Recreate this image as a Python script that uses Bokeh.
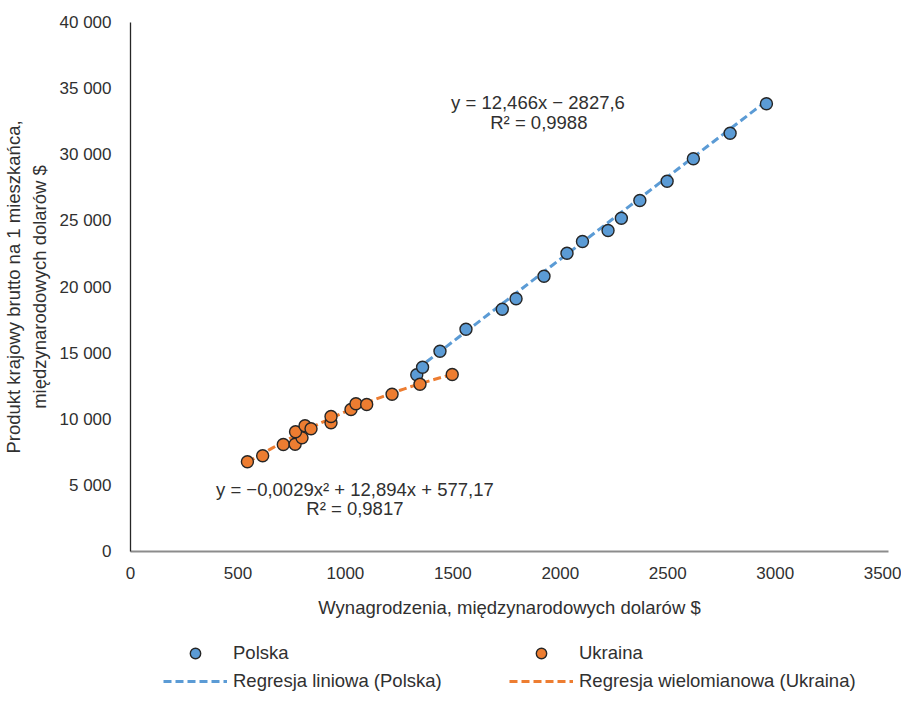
import numpy as np
from bokeh.plotting import figure
from bokeh.layouts import column
from bokeh.models import Legend, LegendItem, Label, FixedTicker, Range1d
from bokeh.embed import file_html
from bokeh.resources import INLINE

# ---- data ----
pl_wages = [1332, 1359, 1440, 1561, 1730, 1794, 1924, 2031, 2103, 2222, 2284, 2370, 2497, 2619, 2790, 2959]
pl_gdp = [13361, 13936, 15146, 16809, 18321, 19108, 20817, 22556, 23440, 24272, 25202, 26541, 28001, 29694, 31629, 33852]

ua_wages = [544, 615, 711, 766, 798, 768, 812, 840, 933, 933, 1026, 1049, 1099, 1217, 1347, 1497]
ua_gdp = [6783, 7236, 8091, 8113, 8597, 9051, 9505, 9278, 9732, 10208, 10737, 11168, 11115, 11894, 12650, 13384]

# trend-line coefficients as printed on the chart
pl_coef = [12.466, -2827.6]
ua_coef = [-0.0029, 12.894, 577.17]

pl_eq = "y = 12,466x \u2212 2827,6"
pl_r2 = "R\u00b2 = 0,9988"
ua_eq = "y = \u22120,0029x\u00b2 + 12,894x + 577,17"
ua_r2 = "R\u00b2 = 0,9817"

x_ticks = [0, 500, 1000, 1500, 2000, 2500, 3000, 3500]
y_ticks = [0, 5000, 10000, 15000, 20000, 25000, 30000, 35000, 40000]
y_tick_labels = ["0", "5 000", "10 000", "15 000", "20 000", "25 000", "30 000", "35 000", "40 000"]

x_title = "Wynagrodzenia, mi\u0119dzynarodowych dolar\u00f3w $"
y_title = "Produkt krajowy brutto na 1 mieszka\u0144ca,\nmi\u0119dzynarodowych dolar\u00f3w $"

names = ["Polska", "Ukraina", "Regresja liniowa (Polska)", "Regresja wielomianowa (Ukraina)"]

# ---- style ----
FONT = "Liberation Sans"
TXT = "#303030"
BLUE = "#5B9BD5"
ORANGE = "#ED7D31"
EDGE = "#262626"
BIG = "18.5px"
TICK = "17px"
DASH = "8 4"

p = figure(width=901, height=625, output_backend="svg", toolbar_location=None,
           x_range=Range1d(0, 3527), y_range=Range1d(0, 40000),
           min_border_left=130, min_border_right=13, min_border_top=22, min_border_bottom=74)
p.outline_line_color = None
p.grid.grid_line_color = None
p.background_fill_color = "white"
p.border_fill_color = "white"

# trend lines
xs_pl = np.linspace(min(pl_wages), max(pl_wages), 60)
ys_pl = np.polyval(pl_coef, xs_pl)
xs_ua = np.linspace(min(ua_wages), max(ua_wages), 60)
ys_ua = np.polyval(ua_coef, xs_ua)

pl_style = dict(size=12, fill_color=BLUE, line_color=EDGE, line_width=1.4)
ua_style = dict(size=12, fill_color=ORANGE, line_color=EDGE, line_width=1.4)
pl_lstyle = dict(line_color=BLUE, line_width=3, line_dash=DASH)
ua_lstyle = dict(line_color=ORANGE, line_width=3, line_dash=DASH)

p.line(xs_pl, ys_pl, **pl_lstyle)
p.scatter(pl_wages, pl_gdp, **pl_style)
p.line(xs_ua, ys_ua, **ua_lstyle)
p.scatter(ua_wages, ua_gdp, **ua_style)

# axes
for ax in (p.xaxis[0], p.yaxis[0]):
    ax.major_tick_line_color = None
    ax.minor_tick_line_color = None
    ax.major_label_text_font = FONT
    ax.major_label_text_font_size = TICK
    ax.major_label_text_color = TXT
    ax.axis_label_text_font = FONT
    ax.axis_label_text_font_size = BIG
    ax.axis_label_text_color = TXT
    ax.axis_label_text_font_style = "normal"

p.xaxis.ticker = FixedTicker(ticks=x_ticks)
p.yaxis.ticker = FixedTicker(ticks=y_ticks)
p.yaxis.major_label_overrides = {t: s for t, s in zip(y_ticks, y_tick_labels)}
p.xaxis.axis_label = x_title
p.yaxis.axis_label = y_title
p.xaxis.axis_line_color = "#8c8c8c"
p.xaxis.axis_line_width = 2
p.yaxis.axis_line_color = "#262626"
p.yaxis.axis_line_width = 1.3
p.xaxis.major_label_standoff = 9
p.yaxis.major_label_standoff = 13
p.xaxis.axis_label_standoff = 15
p.yaxis.axis_label_standoff = 7

# equations
for (x, y, t) in [(1896, 33950, pl_eq), (1900, 32420, pl_r2), (1044, 4688, ua_eq), (1044, 3251, ua_r2)]:
    p.add_layout(Label(x=x, y=y, text=t, text_align="center", text_baseline="middle",
                       text_font=FONT, text_font_size=BIG, text_color=TXT))

# ---- legend strip below the chart ----
lg = figure(width=901, height=66, output_backend="svg", toolbar_location=None,
            x_range=Range1d(0, 1), y_range=Range1d(0, 1),
            min_border=0, x_axis_type=None, y_axis_type=None)
lg.outline_line_color = None
lg.grid.grid_line_color = None
nan = [np.nan]
r_pl = lg.scatter(nan, nan, **pl_style)
r_ua = lg.scatter(nan, nan, **ua_style)
r_pll = lg.line(nan * 2, nan * 2, **pl_lstyle)
r_ual = lg.line(nan * 2, nan * 2, **ua_lstyle)

def make_legend(items, loc):
    leg = Legend(items=items, location=loc, orientation="vertical",
                 glyph_width=64, glyph_height=26, spacing=2, label_standoff=6,
                 label_height=26, padding=0, margin=0,
                 border_line_color=None, background_fill_alpha=0,
                 label_text_font=FONT, label_text_font_size=BIG, label_text_color=TXT)
    lg.add_layout(leg)

make_legend([LegendItem(label=names[0], renderers=[r_pl]),
             LegendItem(label=names[2], renderers=[r_pll])], (33, -3))
make_legend([LegendItem(label=names[1], renderers=[r_ua]),
             LegendItem(label=names[3], renderers=[r_ual])], (379, -3))

open("out.html", "w").write(file_html(column(p, lg), INLINE))
